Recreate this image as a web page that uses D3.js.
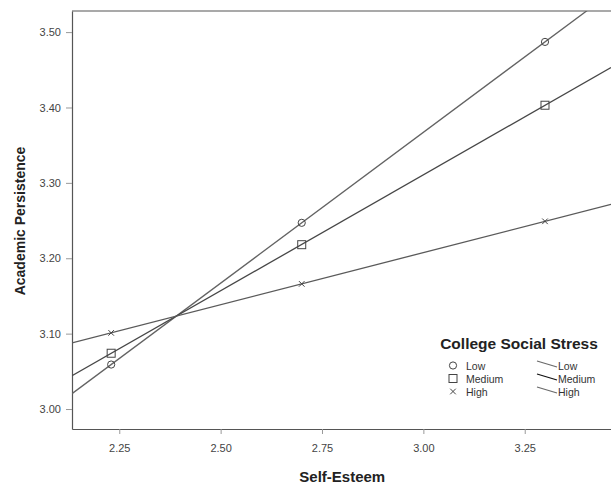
<!DOCTYPE html>
<html>
<head>
<meta charset="utf-8">
<script src="https://cdn.jsdelivr.net/npm/d3@7"></script>
<style>
  body { margin: 0; background: #fff; }
  svg text { font-family: "Liberation Sans", Arial, sans-serif; }
</style>
</head>
<body>
<div id="chart"></div>
<script>
// Self-Esteem values where the estimated means were plotted
const selfEsteem = [2.23, 2.70, 3.30];

// Estimated Academic Persistence per level of College Social Stress
const lowStress = [3.059, 3.247, 3.487];
const mediumStress = [3.074, 3.218, 3.403];
const highStress = [3.101, 3.166, 3.249];

const levels = ["Low", "Medium", "High"];
const xTicks = [2.25, 2.5, 2.75, 3.0, 3.25];
const yTicks = [3.0, 3.1, 3.2, 3.3, 3.4, 3.5];

const series = [
  { name: "Low", values: lowStress, marker: "circle", color: "#636363" },
  { name: "Medium", values: mediumStress, marker: "square", color: "#474747" },
  { name: "High", values: highStress, marker: "cross", color: "#5a5a5a" },
];

const config = {
  width: 611,
  height: 486,
  margin: { top: 11, right: 0, bottom: 57, left: 72 },
};
const innerW = config.width - config.margin.left - config.margin.right;
const innerH = config.height - config.margin.top - config.margin.bottom;

const svg = d3
  .select("#chart")
  .append("svg")
  .attr("width", config.width)
  .attr("height", config.height);

const g = svg
  .append("g")
  .attr("transform", `translate(${config.margin.left},${config.margin.top})`);

const x = d3.scaleLinear().domain([2.1334, 3.4628]).range([0, innerW]);
const y = d3.scaleLinear().domain([2.9735, 3.528]).range([innerH, 0]);

g.append("clipPath")
  .attr("id", "plotClip")
  .append("rect")
  .attr("width", innerW)
  .attr("height", innerH);

// Axes
const xAxis = g
  .append("g")
  .attr("transform", `translate(0,${innerH})`)
  .call(d3.axisBottom(x).tickValues(xTicks).tickFormat(d3.format(".2f")).tickSize(5).tickSizeOuter(0));
const yAxis = g
  .append("g")
  .call(d3.axisLeft(y).tickValues(yTicks).tickFormat(d3.format(".2f")).tickSize(6).tickSizeOuter(0));

[xAxis, yAxis].forEach((ax) => {
  ax.select(".domain").attr("stroke", "#555").attr("stroke-width", 1.2);
  ax.selectAll(".tick line").attr("stroke", "#999");
  ax.selectAll(".tick text")
    .attr("fill", "#444")
    .style("font-size", "11px")
    .style("font-family", "Liberation Sans, Arial, sans-serif");
});
xAxis.selectAll(".tick text").attr("dy", "1.4em");
yAxis.selectAll(".tick text").attr("x", -11);

// Top border
g.append("line")
  .attr("x1", 0)
  .attr("x2", innerW)
  .attr("y1", 0)
  .attr("y2", 0)
  .attr("stroke", "#555")
  .attr("stroke-width", 1.2);

// Axis titles
svg.append("text")
  .attr("x", config.margin.left + x(2.8))
  .attr("y", 482)
  .attr("text-anchor", "middle")
  .style("font-size", "15px")
  .style("font-weight", "bold")
  .attr("fill", "#222")
  .text("Self-Esteem");

svg.append("text")
  .attr("transform", "rotate(-90)")
  .attr("x", -221)
  .attr("y", 25)
  .attr("text-anchor", "middle")
  .style("font-size", "14px")
  .style("font-weight", "bold")
  .attr("fill", "#222")
  .text("Academic Persistence");

// Fit lines (least squares through the plotted means), extended over the plot
const plot = g.append("g").attr("clip-path", "url(#plotClip)");

series.forEach((s) => {
  const mx = d3.mean(selfEsteem);
  const my = d3.mean(s.values);
  const slope =
    d3.sum(selfEsteem, (v, i) => (v - mx) * (s.values[i] - my)) /
    d3.sum(selfEsteem, (v) => (v - mx) * (v - mx));
  const ends = x.domain().map((v) => [v, my + slope * (v - mx)]);
  plot.append("path")
    .datum(ends)
    .attr("fill", "none")
    .attr("stroke", s.color)
    .attr("stroke-width", 1.3)
    .attr("d", d3.line().x((d) => x(d[0])).y((d) => y(d[1])));
});

function drawMarker(sel, type, cx, cy) {
  if (type === "circle") {
    sel.append("circle")
      .attr("cx", cx).attr("cy", cy).attr("r", 3.6)
      .attr("fill", "none").attr("stroke", "#444").attr("stroke-width", 1);
  } else if (type === "square") {
    sel.append("rect")
      .attr("x", cx - 4).attr("y", cy - 4).attr("width", 8).attr("height", 8)
      .attr("fill", "none").attr("stroke", "#444").attr("stroke-width", 1);
  } else {
    const r = 2.8;
    sel.append("path")
      .attr("d", `M${cx - r},${cy - r}L${cx + r},${cy + r}M${cx - r},${cy + r}L${cx + r},${cy - r}`)
      .attr("stroke", "#444").attr("stroke-width", 1);
  }
}

series.forEach((s) => {
  selfEsteem.forEach((v, i) => drawMarker(plot, s.marker, x(v), y(s.values[i])));
});

// Legend
const legend = svg.append("g");
legend.append("text")
  .attr("x", 519)
  .attr("y", 349)
  .attr("text-anchor", "middle")
  .style("font-size", "15.5px")
  .style("font-weight", "bold")
  .attr("fill", "#222")
  .text("College Social Stress");

const legendLineColors = ["#6a6a6a", "#111", "#6a6a6a"];
series.forEach((s, i) => {
  const ry = 366 + i * 13;
  drawMarker(legend, s.marker, 453, ry - 0.5);
  legend.append("text")
    .attr("x", 466)
    .attr("y", ry + 4)
    .style("font-size", "10.5px")
    .attr("fill", "#333")
    .text(levels[i]);
  legend.append("line")
    .attr("x1", 537).attr("y1", ry - 5)
    .attr("x2", 557).attr("y2", ry + 1)
    .attr("stroke", legendLineColors[i])
    .attr("stroke-width", 1.3);
  legend.append("text")
    .attr("x", 558)
    .attr("y", ry + 4)
    .style("font-size", "10.5px")
    .attr("fill", "#333")
    .text(levels[i]);
});
</script>
</body>
</html>
